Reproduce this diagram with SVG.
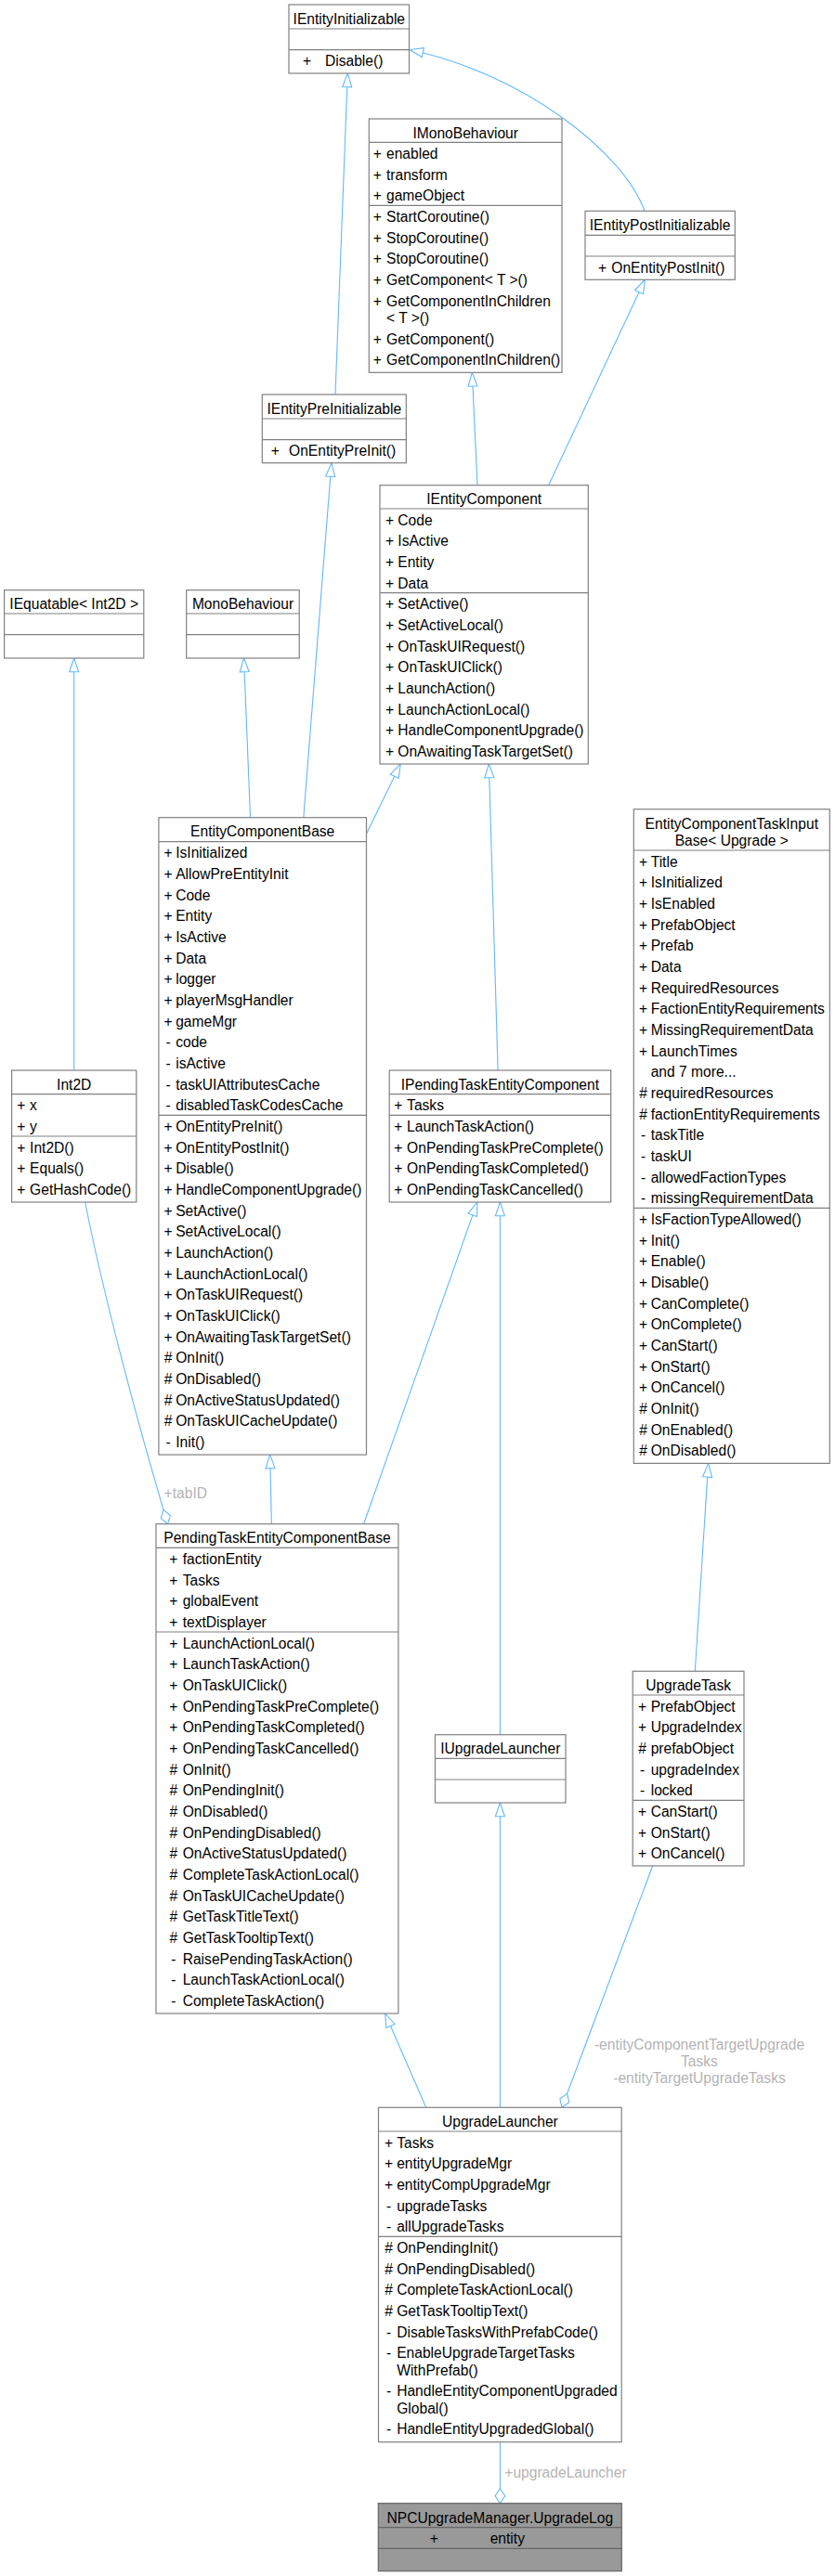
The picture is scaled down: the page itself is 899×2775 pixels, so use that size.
<svg xmlns="http://www.w3.org/2000/svg" width="899" height="2775" viewBox="0 0 899 2775">
<style>
.box{fill:#fff;stroke:#808080;stroke-width:1.2}
.hl{fill:#999;stroke:#666;stroke-width:1.2}
.sep{fill:none;stroke:#808080;stroke-width:1.2}
text{font-family:"Liberation Sans",Arial,Helvetica,sans-serif;font-size:15.6px;fill:#000}
.c{text-anchor:middle}
.lb{fill:#b4b4b4}
.e{fill:none;stroke:#63b8ff;stroke-width:1.1}
.i{marker-end:url(#inh)}
.a{marker-end:url(#agg)}
</style>
<defs>
<marker id="inh" markerUnits="userSpaceOnUse" markerWidth="18" markerHeight="14" refX="16" refY="6" orient="auto" overflow="visible"><path d="M1.3,1 L16,6 L1.3,11 Z" fill="#fff" stroke="#63b8ff" stroke-width="1.1"/></marker>
<marker id="agg" markerUnits="userSpaceOnUse" markerWidth="18" markerHeight="12" refX="16.5" refY="5.5" orient="auto" overflow="visible"><path d="M0.5,5.5 L8.5,0.2 L16.5,5.5 L8.5,10.8 Z" fill="#fff" stroke="#63b8ff" stroke-width="1.1"/></marker>
</defs>

<g id="connectors">
<path class="e i" d="M361,425 L374.3,79"/>
<path class="e i" d="M694,227.3 C672,165 565,80 441,53.5"/>
<path class="e i" d="M514,522.7 L508.3,401.3"/>
<path class="e i" d="M590.7,522.7 L694.3,301.3"/>
<path class="e i" d="M79.7,1153 L79.7,709"/>
<path class="e i" d="M269.5,880.7 L262.6,709"/>
<path class="e i" d="M326.8,880.7 L356.9,498.7"/>
<path class="e i" d="M394.5,898.3 L431.2,823"/>
<path class="e i" d="M536.1,1153 L526.4,823"/>
<path class="e i" d="M748.3,1800.3 L762.6,1576.4"/>
<path class="e i" d="M292.4,1641.7 L290.7,1567.1"/>
<path class="e i" d="M391.6,1641.7 L513.8,1295"/>
<path class="e i" d="M538.4,1868.7 L538.4,1295"/>
<path class="e i" d="M458.7,2270.3 L414.6,2169"/>
<path class="e i" d="M538.4,2270.3 L538.4,1942"/>
<path class="e a" d="M91.7,1295 C110,1390 150,1540 180.6,1641.7"/>
<path class="e a" d="M702.7,2010 L605,2270.3"/>
<path class="e a" d="M538.4,2630.7 L538.4,2696.7"/>
<text class="lb" x="176.6" y="1614">+tabID</text>
<text class="lb c" x="753" y="2208">-entityComponentTargetUpgrade</text>
<text class="lb c" x="753" y="2226">Tasks</text>
<text class="lb c" x="753" y="2243.5">-entityTargetUpgradeTasks</text>
<text class="lb" x="543.3" y="2669.3">+upgradeLauncher</text>
</g>

<g id="IEntityInitializable">
<rect class="box" x="311" y="5" width="129.5" height="74"/>
<path class="sep" d="M311,31H440.5M311,53.7H440.5"/>
<text class="c" x="375.8" y="25.5">IEntityInitializable</text>
<text class="c" x="330.5" y="71.3">+</text><text x="350" y="71.3">Disable()</text>
</g>

<g id="IMonoBehaviour">
<rect class="box" x="397.3" y="128" width="207.7" height="273.3"/>
<path class="sep" d="M397.3,153.3H605M397.3,221.3H605"/>
<text class="c" x="501.2" y="148.5">IMonoBehaviour</text>
<g class="c"><text class="c" x="406.3" y="170.9">+</text><text class="c" x="406.3" y="193.6">+</text><text class="c" x="406.3" y="216.3">+</text>
<text class="c" x="406.3" y="238.9">+</text><text class="c" x="406.3" y="261.6">+</text><text class="c" x="406.3" y="284.2">+</text><text class="c" x="406.3" y="306.9">+</text><text class="c" x="406.3" y="329.6">+</text><text class="c" x="406.3" y="370.6">+</text><text class="c" x="406.3" y="393.3">+</text></g>
<text x="416" y="170.9">enabled</text>
<text x="416" y="193.6">transform</text>
<text x="416" y="216.3">gameObject</text>
<text x="416" y="238.9">StartCoroutine()</text>
<text x="416" y="261.6">StopCoroutine()</text>
<text x="416" y="284.2">StopCoroutine()</text>
<text x="416" y="306.9">GetComponent&lt; T &gt;()</text>
<text x="416" y="329.6">GetComponentInChildren</text>
<text x="416" y="347.9">&lt; T &gt;()</text>
<text x="416" y="370.6">GetComponent()</text>
<text x="416" y="393.3">GetComponentInChildren()</text>
</g>

<g id="IEntityPostInitializable">
<rect class="box" x="630" y="227.3" width="161.3" height="74"/>
<path class="sep" d="M630,253.4H791.3M630,276H791.3"/>
<text class="c" x="710.6" y="247.8">IEntityPostInitializable</text>
<text class="c" x="648.5" y="293.6">+</text><text x="658.3" y="293.6">OnEntityPostInit()</text>
</g>

<g id="IEntityPreInitializable">
<rect class="box" x="282.3" y="425" width="155" height="73.7"/>
<path class="sep" d="M282.3,451H437.3M282.3,473.7H437.3"/>
<text class="c" x="359.8" y="445.5">IEntityPreInitializable</text>
<text class="c" x="296.3" y="491.3">+</text><text x="311" y="491.3">OnEntityPreInit()</text>
</g>

<g id="IEntityComponent">
<rect class="box" x="409" y="522.7" width="224.3" height="300.3"/>
<path class="sep" d="M409,548H633.3M409,638.7H633.3"/>
<text class="c" x="521.2" y="543.2">IEntityComponent</text>
<text class="c" x="419.6" y="565.6">+</text><text x="428.3" y="565.6">Code</text>
<text class="c" x="419.6" y="588.3">+</text><text x="428.3" y="588.3">IsActive</text>
<text class="c" x="419.6" y="610.9">+</text><text x="428.3" y="610.9">Entity</text>
<text class="c" x="419.6" y="633.6">+</text><text x="428.3" y="633.6">Data</text>
<text class="c" x="419.6" y="656.3">+</text><text x="428.3" y="656.3">SetActive()</text>
<text class="c" x="419.6" y="679">+</text><text x="428.3" y="679">SetActiveLocal()</text>
<text class="c" x="419.6" y="701.6">+</text><text x="428.3" y="701.6">OnTaskUIRequest()</text>
<text class="c" x="419.6" y="724.3">+</text><text x="428.3" y="724.3">OnTaskUIClick()</text>
<text class="c" x="419.6" y="747">+</text><text x="428.3" y="747">LaunchAction()</text>
<text class="c" x="419.6" y="769.7">+</text><text x="428.3" y="769.7">LaunchActionLocal()</text>
<text class="c" x="419.6" y="792.3">+</text><text x="428.3" y="792.3">HandleComponentUpgrade()</text>
<text class="c" x="419.6" y="815">+</text><text x="428.3" y="815">OnAwaitingTaskTargetSet()</text>
</g>

<g id="IEquatable">
<rect class="box" x="4.6" y="635.7" width="150.2" height="73.3"/>
<path class="sep" d="M4.6,661H154.8M4.6,683.7H154.8"/>
<text class="c" x="79.7" y="656.2">IEquatable&lt; Int2D &gt;</text>
</g>

<g id="MonoBehaviour">
<rect class="box" x="200.7" y="635.7" width="121.5" height="73.3"/>
<path class="sep" d="M200.7,661H322.2M200.7,683.7H322.2"/>
<text class="c" x="261.5" y="656.2">MonoBehaviour</text>
</g>

<g id="EntityComponentBase">
<rect class="box" x="170.9" y="880.7" width="223.6" height="686.4"/>
<path class="sep" d="M170.9,906.7H394.5M170.9,1201.4H394.5"/>
<text class="c" x="282.7" y="901.2">EntityComponentBase</text>
<text class="c" x="181.1" y="924.3">+</text><text x="189.2" y="924.3">IsInitialized</text>
<text class="c" x="181.1" y="947">+</text><text x="189.2" y="947">AllowPreEntityInit</text>
<text class="c" x="181.1" y="969.6">+</text><text x="189.2" y="969.6">Code</text>
<text class="c" x="181.1" y="992.3">+</text><text x="189.2" y="992.3">Entity</text>
<text class="c" x="181.1" y="1015">+</text><text x="189.2" y="1015">IsActive</text>
<text class="c" x="181.1" y="1037.6">+</text><text x="189.2" y="1037.6">Data</text>
<text class="c" x="181.1" y="1060.3">+</text><text x="189.2" y="1060.3">logger</text>
<text class="c" x="181.1" y="1083">+</text><text x="189.2" y="1083">playerMsgHandler</text>
<text class="c" x="181.1" y="1105.7">+</text><text x="189.2" y="1105.7">gameMgr</text>
<text class="c" x="181.1" y="1128.3">-</text><text x="189.2" y="1128.3">code</text>
<text class="c" x="181.1" y="1151">-</text><text x="189.2" y="1151">isActive</text>
<text class="c" x="181.1" y="1173.7">-</text><text x="189.2" y="1173.7">taskUIAttributesCache</text>
<text class="c" x="181.1" y="1196.3">-</text><text x="189.2" y="1196.3">disabledTaskCodesCache</text>
<text class="c" x="181.1" y="1219">+</text><text x="189.2" y="1219">OnEntityPreInit()</text>
<text class="c" x="181.1" y="1241.7">+</text><text x="189.2" y="1241.7">OnEntityPostInit()</text>
<text class="c" x="181.1" y="1264.3">+</text><text x="189.2" y="1264.3">Disable()</text>
<text class="c" x="181.1" y="1287">+</text><text x="189.2" y="1287">HandleComponentUpgrade()</text>
<text class="c" x="181.1" y="1309.7">+</text><text x="189.2" y="1309.7">SetActive()</text>
<text class="c" x="181.1" y="1332.4">+</text><text x="189.2" y="1332.4">SetActiveLocal()</text>
<text class="c" x="181.1" y="1355">+</text><text x="189.2" y="1355">LaunchAction()</text>
<text class="c" x="181.1" y="1377.7">+</text><text x="189.2" y="1377.7">LaunchActionLocal()</text>
<text class="c" x="181.1" y="1400.4">+</text><text x="189.2" y="1400.4">OnTaskUIRequest()</text>
<text class="c" x="181.1" y="1423">+</text><text x="189.2" y="1423">OnTaskUIClick()</text>
<text class="c" x="181.1" y="1445.7">+</text><text x="189.2" y="1445.7">OnAwaitingTaskTargetSet()</text>
<text class="c" x="181.1" y="1468.4">#</text><text x="189.2" y="1468.4">OnInit()</text>
<text class="c" x="181.1" y="1491">#</text><text x="189.2" y="1491">OnDisabled()</text>
<text class="c" x="181.1" y="1513.7">#</text><text x="189.2" y="1513.7">OnActiveStatusUpdated()</text>
<text class="c" x="181.1" y="1536.4">#</text><text x="189.2" y="1536.4">OnTaskUICacheUpdate()</text>
<text class="c" x="181.1" y="1559">-</text><text x="189.2" y="1559">Init()</text>
</g>

<g id="EntityComponentTaskInputBase">
<rect class="box" x="682.3" y="871.7" width="211" height="704.7"/>
<path class="sep" d="M682.3,916H893.3M682.3,1301.4H893.3"/>
<text class="c" x="787.8" y="892.7">EntityComponentTaskInput</text>
<text class="c" x="787.8" y="911">Base&lt; Upgrade &gt;</text>
<text class="c" x="692.5" y="933.6">+</text><text x="700.7" y="933.6">Title</text>
<text class="c" x="692.5" y="956.3">+</text><text x="700.7" y="956.3">IsInitialized</text>
<text class="c" x="692.5" y="978.9">+</text><text x="700.7" y="978.9">IsEnabled</text>
<text class="c" x="692.5" y="1001.6">+</text><text x="700.7" y="1001.6">PrefabObject</text>
<text class="c" x="692.5" y="1024.3">+</text><text x="700.7" y="1024.3">Prefab</text>
<text class="c" x="692.5" y="1047">+</text><text x="700.7" y="1047">Data</text>
<text class="c" x="692.5" y="1069.6">+</text><text x="700.7" y="1069.6">RequiredResources</text>
<text class="c" x="692.5" y="1092.3">+</text><text x="700.7" y="1092.3">FactionEntityRequirements</text>
<text class="c" x="692.5" y="1115">+</text><text x="700.7" y="1115">MissingRequirementData</text>
<text class="c" x="692.5" y="1137.6">+</text><text x="700.7" y="1137.6">LaunchTimes</text>
<text x="700.7" y="1160.3">and 7 more...</text>
<text class="c" x="692.5" y="1183">#</text><text x="700.7" y="1183">requiredResources</text>
<text class="c" x="692.5" y="1205.6">#</text><text x="700.7" y="1205.6">factionEntityRequirements</text>
<text class="c" x="692.5" y="1228.3">-</text><text x="700.7" y="1228.3">taskTitle</text>
<text class="c" x="692.5" y="1251">-</text><text x="700.7" y="1251">taskUI</text>
<text class="c" x="692.5" y="1273.7">-</text><text x="700.7" y="1273.7">allowedFactionTypes</text>
<text class="c" x="692.5" y="1296.3">-</text><text x="700.7" y="1296.3">missingRequirementData</text>
<text class="c" x="692.5" y="1319">+</text><text x="700.7" y="1319">IsFactionTypeAllowed()</text>
<text class="c" x="692.5" y="1341.7">+</text><text x="700.7" y="1341.7">Init()</text>
<text class="c" x="692.5" y="1364.3">+</text><text x="700.7" y="1364.3">Enable()</text>
<text class="c" x="692.5" y="1387">+</text><text x="700.7" y="1387">Disable()</text>
<text class="c" x="692.5" y="1409.7">+</text><text x="700.7" y="1409.7">CanComplete()</text>
<text class="c" x="692.5" y="1432.4">+</text><text x="700.7" y="1432.4">OnComplete()</text>
<text class="c" x="692.5" y="1455">+</text><text x="700.7" y="1455">CanStart()</text>
<text class="c" x="692.5" y="1477.7">+</text><text x="700.7" y="1477.7">OnStart()</text>
<text class="c" x="692.5" y="1500.4">+</text><text x="700.7" y="1500.4">OnCancel()</text>
<text class="c" x="692.5" y="1523">#</text><text x="700.7" y="1523">OnInit()</text>
<text class="c" x="692.5" y="1545.7">#</text><text x="700.7" y="1545.7">OnEnabled()</text>
<text class="c" x="692.5" y="1568.4">#</text><text x="700.7" y="1568.4">OnDisabled()</text>
</g>

<g id="Int2D">
<rect class="box" x="12.6" y="1153" width="134.2" height="142"/>
<path class="sep" d="M12.6,1178.7H146.8M12.6,1224H146.8"/>
<text class="c" x="79.7" y="1173.5">Int2D</text>
<text class="c" x="22.8" y="1196.3">+</text><text x="32.1" y="1196.3">x</text>
<text class="c" x="22.8" y="1219">+</text><text x="32.1" y="1219">y</text>
<text class="c" x="22.8" y="1241.6">+</text><text x="32.1" y="1241.6">Int2D()</text>
<text class="c" x="22.8" y="1264.3">+</text><text x="32.1" y="1264.3">Equals()</text>
<text class="c" x="22.8" y="1287">+</text><text x="32.1" y="1287">GetHashCode()</text>
</g>

<g id="IPendingTaskEntityComponent">
<rect class="box" x="419.2" y="1153" width="238.5" height="142"/>
<path class="sep" d="M419.2,1178.7H657.7M419.2,1201.4H657.7"/>
<text class="c" x="538.4" y="1173.5">IPendingTaskEntityComponent</text>
<text class="c" x="428.8" y="1196.3">+</text><text x="438.1" y="1196.3">Tasks</text>
<text class="c" x="428.8" y="1219">+</text><text x="438.1" y="1219">LaunchTaskAction()</text>
<text class="c" x="428.8" y="1241.7">+</text><text x="438.1" y="1241.7">OnPendingTaskPreComplete()</text>
<text class="c" x="428.8" y="1264.3">+</text><text x="438.1" y="1264.3">OnPendingTaskCompleted()</text>
<text class="c" x="428.8" y="1287">+</text><text x="438.1" y="1287">OnPendingTaskCancelled()</text>
</g>

<g id="PendingTaskEntityComponentBase">
<rect class="box" x="168" y="1641.7" width="260.9" height="527.3"/>
<path class="sep" d="M168,1667.3H428.9M168,1758H428.9"/>
<text class="c" x="298.5" y="1662.2">PendingTaskEntityComponentBase</text>
<text class="c" x="186.8" y="1684.9">+</text><text x="196.7" y="1684.9">factionEntity</text>
<text class="c" x="186.8" y="1707.6">+</text><text x="196.7" y="1707.6">Tasks</text>
<text class="c" x="186.8" y="1730.3">+</text><text x="196.7" y="1730.3">globalEvent</text>
<text class="c" x="186.8" y="1752.9">+</text><text x="196.7" y="1752.9">textDisplayer</text>
<text class="c" x="186.8" y="1775.6">+</text><text x="196.7" y="1775.6">LaunchActionLocal()</text>
<text class="c" x="186.8" y="1798.3">+</text><text x="196.7" y="1798.3">LaunchTaskAction()</text>
<text class="c" x="186.8" y="1820.9">+</text><text x="196.7" y="1820.9">OnTaskUIClick()</text>
<text class="c" x="186.8" y="1843.6">+</text><text x="196.7" y="1843.6">OnPendingTaskPreComplete()</text>
<text class="c" x="186.8" y="1866.3">+</text><text x="196.7" y="1866.3">OnPendingTaskCompleted()</text>
<text class="c" x="186.8" y="1889">+</text><text x="196.7" y="1889">OnPendingTaskCancelled()</text>
<text class="c" x="186.8" y="1911.6">#</text><text x="196.7" y="1911.6">OnInit()</text>
<text class="c" x="186.8" y="1934.3">#</text><text x="196.7" y="1934.3">OnPendingInit()</text>
<text class="c" x="186.8" y="1957">#</text><text x="196.7" y="1957">OnDisabled()</text>
<text class="c" x="186.8" y="1979.6">#</text><text x="196.7" y="1979.6">OnPendingDisabled()</text>
<text class="c" x="186.8" y="2002.3">#</text><text x="196.7" y="2002.3">OnActiveStatusUpdated()</text>
<text class="c" x="186.8" y="2025">#</text><text x="196.7" y="2025">CompleteTaskActionLocal()</text>
<text class="c" x="186.8" y="2047.6">#</text><text x="196.7" y="2047.6">OnTaskUICacheUpdate()</text>
<text class="c" x="186.8" y="2070.3">#</text><text x="196.7" y="2070.3">GetTaskTitleText()</text>
<text class="c" x="186.8" y="2093">#</text><text x="196.7" y="2093">GetTaskTooltipText()</text>
<text class="c" x="186.8" y="2115.7">-</text><text x="196.7" y="2115.7">RaisePendingTaskAction()</text>
<text class="c" x="186.8" y="2138.3">-</text><text x="196.7" y="2138.3">LaunchTaskActionLocal()</text>
<text class="c" x="186.8" y="2161">-</text><text x="196.7" y="2161">CompleteTaskAction()</text>
</g>

<g id="IUpgradeLauncher">
<rect class="box" x="468.5" y="1868.7" width="140.5" height="73.3"/>
<path class="sep" d="M468.5,1894.3H609M468.5,1917H609"/>
<text class="c" x="538.75" y="1889.2">IUpgradeLauncher</text>
</g>

<g id="UpgradeTask">
<rect class="box" x="681.2" y="1800.3" width="119.8" height="209.7"/>
<path class="sep" d="M681.2,1826H801M681.2,1939.3H801"/>
<text class="c" x="741.1" y="1820.8">UpgradeTask</text>
<text class="c" x="691.5" y="1843.6">+</text><text x="700.7" y="1843.6">PrefabObject</text>
<text class="c" x="691.5" y="1866.3">+</text><text x="700.7" y="1866.3">UpgradeIndex</text>
<text class="c" x="691.5" y="1888.9">#</text><text x="700.7" y="1888.9">prefabObject</text>
<text class="c" x="691.5" y="1911.6">-</text><text x="700.7" y="1911.6">upgradeIndex</text>
<text class="c" x="691.5" y="1934.3">-</text><text x="700.7" y="1934.3">locked</text>
<text class="c" x="691.5" y="1956.9">+</text><text x="700.7" y="1956.9">CanStart()</text>
<text class="c" x="691.5" y="1979.6">+</text><text x="700.7" y="1979.6">OnStart()</text>
<text class="c" x="691.5" y="2002.3">+</text><text x="700.7" y="2002.3">OnCancel()</text>
</g>

<g id="UpgradeLauncher">
<rect class="box" x="407.5" y="2270.3" width="261.7" height="360.4"/>
<path class="sep" d="M407.5,2296H669.2M407.5,2409.3H669.2"/>
<text class="c" x="538.4" y="2290.8">UpgradeLauncher</text>
<text class="c" x="418.5" y="2313.6">+</text><text x="427.2" y="2313.6">Tasks</text>
<text class="c" x="418.5" y="2336.3">+</text><text x="427.2" y="2336.3">entityUpgradeMgr</text>
<text class="c" x="418.5" y="2358.9">+</text><text x="427.2" y="2358.9">entityCompUpgradeMgr</text>
<text class="c" x="418.5" y="2381.6">-</text><text x="427.2" y="2381.6">upgradeTasks</text>
<text class="c" x="418.5" y="2404.3">-</text><text x="427.2" y="2404.3">allUpgradeTasks</text>
<text class="c" x="418.5" y="2426.9">#</text><text x="427.2" y="2426.9">OnPendingInit()</text>
<text class="c" x="418.5" y="2449.6">#</text><text x="427.2" y="2449.6">OnPendingDisabled()</text>
<text class="c" x="418.5" y="2472.3">#</text><text x="427.2" y="2472.3">CompleteTaskActionLocal()</text>
<text class="c" x="418.5" y="2494.9">#</text><text x="427.2" y="2494.9">GetTaskTooltipText()</text>
<text class="c" x="418.5" y="2517.6">-</text><text x="427.2" y="2517.6">DisableTasksWithPrefabCode()</text>
<text class="c" x="418.5" y="2540.3">-</text><text x="427.2" y="2540.3">EnableUpgradeTargetTasks</text>
<text x="427.2" y="2558.6">WithPrefab()</text>
<text class="c" x="418.5" y="2581.3">-</text><text x="427.2" y="2581.3">HandleEntityComponentUpgraded</text>
<text x="427.2" y="2599.6">Global()</text>
<text class="c" x="418.5" y="2622.3">-</text><text x="427.2" y="2622.3">HandleEntityUpgradedGlobal()</text>
</g>

<g id="NPCUpgradeManager.UpgradeLog">
<rect class="hl" x="407.3" y="2696.7" width="262" height="73"/>
<path class="sep" d="M407.3,2722.7H669.3M407.3,2745.3H669.3" style="stroke:#666"/>
<text class="c" x="538.3" y="2717.5">NPCUpgradeManager.UpgradeLog</text>
<text class="c" x="467.3" y="2740.3">+</text><text x="527.7" y="2740.3">entity</text>
</g>
</svg>
